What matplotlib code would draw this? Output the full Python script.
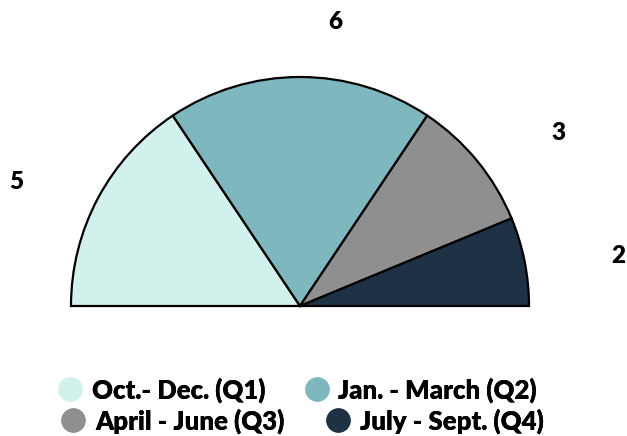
import matplotlib
matplotlib.use("Agg")
import matplotlib.pyplot as plt
from matplotlib.lines import Line2D

categories = ["Oct.- Dec. (Q1)", "Jan. - March (Q2)", "April - June (Q3)", "July - Sept. (Q4)"]
values = [5, 6, 3, 2]
colors = ["#d3f1ec", "#7fb7bf", "#8f8f8f", "#1f3144"]

# layout (pixel coordinates, y measured upward)
W, H = 627, 436
cx, cy, R = 300, 130, 229
label_pos = [(16, 254), (335, 414), (558, 303), (618, 180)]

FONT = ['Lato', 'DejaVu Sans']
plt.rcParams['font.family'] = FONT
fig = plt.figure(figsize=(W / 100, H / 100), dpi=100)
ax = fig.add_axes([0, 0, 1, 1])

total = sum(values)
wedges, _ = ax.pie(values + [total], colors=colors + ["white"], startangle=180,
                   counterclock=False, radius=R, center=(cx, cy),
                   wedgeprops=dict(edgecolor="black", linewidth=1.6))
wedges[-1].set_visible(False)

for v, (x, y) in zip(values, label_pos):
    ax.text(x, y, str(v), ha="center", va="center", fontsize=17.5, fontweight="heavy", color="black")

ax.set_xlim(0, W)
ax.set_ylim(0, H)
ax.set_aspect("equal")
ax.axis("off")

def handle(c):
    return Line2D([], [], marker="o", linestyle="none", markersize=16.5, markerfacecolor=c,
                  markeredgecolor=c)

rows = [(0, 1, 0.474, 1 - 390 / H, 1.5), (2, 3, 0.482, 1 - 421 / H, 1.6)]
for i, j, xc, yc, cs in rows:
    leg = fig.legend([handle(colors[i]), handle(colors[j])], [categories[i], categories[j]],
                     loc="center", bbox_to_anchor=(xc, yc), ncol=2, frameon=False,
                     prop=dict(family=FONT, weight="heavy", size=18.5),
                     handletextpad=0.34, columnspacing=cs, handlelength=1.0,
                     borderpad=0, borderaxespad=0)
    fig.add_artist(leg)

fig.savefig("out.png", dpi=100)
